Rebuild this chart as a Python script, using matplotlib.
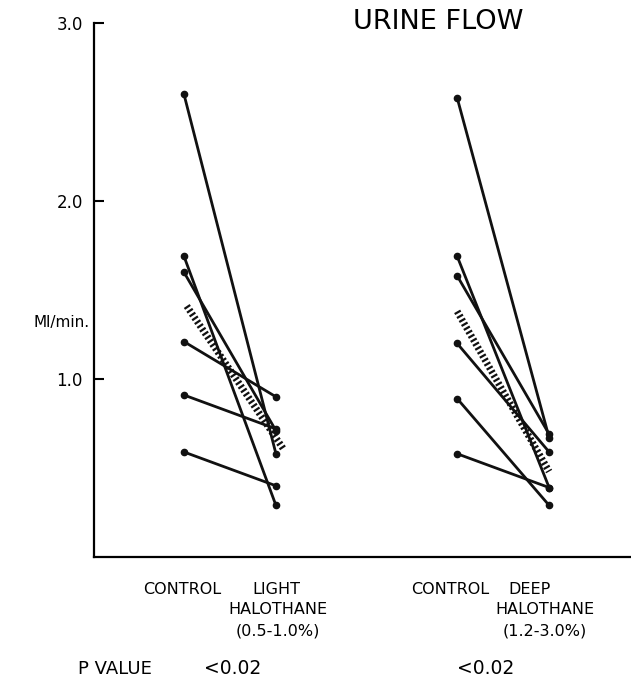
import matplotlib
matplotlib.use("Agg")
import matplotlib.pyplot as plt

# ---- data ----
left_control = [2.60, 1.69, 1.60, 1.21, 0.91, 0.59]
left_light = [0.58, 0.29, 0.71, 0.90, 0.72, 0.40]
left_mean = [1.41, 0.60]

right_control = [2.58, 1.69, 1.58, 1.20, 0.89, 0.58]
right_deep = [0.67, 0.39, 0.69, 0.59, 0.29, 0.39]
right_mean = [1.38, 0.48]

y_ticks = [1.0, 2.0, 3.0]
y_ticklabels = ["1.0", "2.0", "3.0"]

title = "URINE FLOW"
y_label = "Ml/min."
group_labels = [
    ("CONTROL", "LIGHT", "HALOTHANE", "(0.5-1.0%)"),
    ("CONTROL", "DEEP", "HALOTHANE", "(1.2-3.0%)"),
]
p_label = "P VALUE"
p_values = ["<0.02", "<0.02"]

# ---- figure ----
W, H = 631, 684
plt.rcParams['font.family'] = ['DejaVu Sans']
fig = plt.figure(figsize=(W / 100, H / 100), dpi=100)
ax = fig.add_axes([94 / W, (H - 557) / H, (W - 94) / W, (557 - 23) / H])

ax.set_xlim(0.022, 5.86)
ax.set_ylim(0, 3.0)

xl = (1.0, 2.0)
xr = (3.97, 4.97)

line_kw = dict(color='#111111', lw=2.0, marker='o', markersize=4.5,
               solid_capstyle='round')
for a, b in zip(left_control, left_light):
    ax.plot(xl, [a, b], **line_kw)
for a, b in zip(right_control, right_deep):
    ax.plot(xr, [a, b], **line_kw)

mean_kw = dict(color='#111111', lw=5, linestyle=(0, (0.32, 0.34)),
               dash_capstyle='butt')
ax.plot((1.03, 2.09), left_mean, **mean_kw)
ax.plot((3.97, 4.97), right_mean, **mean_kw)

# axes styling
for s in ('top', 'right'):
    ax.spines[s].set_visible(False)
ax.spines['left'].set_linewidth(1.6)
ax.spines['bottom'].set_linewidth(1.6)
ax.set_xticks([])
ax.set_yticks(y_ticks)
ax.set_yticklabels(y_ticklabels, fontsize=12)
ax.tick_params(axis='y', direction='in', length=7, width=1.5, pad=8)

def fx(px):
    return px / W

def fy(py):
    return 1 - py / H

fig.text(fx(438), fy(22), title, fontsize=19.5, ha='center', va='center')
fig.text(fx(62), fy(323), y_label, fontsize=11, ha='center', va='center')

# bottom labels
left_pos = dict(ctrl=182, trt=276, sub=278)
right_pos = dict(ctrl=450, trt=529, sub=545)
for labels, pos in zip(group_labels, (left_pos, right_pos)):
    ctrl, trt, hal, pct = labels
    fig.text(fx(pos['ctrl']), fy(589.5), ctrl, fontsize=11.5, ha='center', va='center')
    fig.text(fx(pos['trt']), fy(589.5), trt, fontsize=11.5, ha='center', va='center')
    fig.text(fx(pos['sub']), fy(610), hal, fontsize=11.5, ha='center', va='center')
    fig.text(fx(pos['sub']), fy(631), pct, fontsize=11.5, ha='center', va='center')

fig.text(fx(115), fy(669), p_label, fontsize=13, ha='center', va='center')
fig.text(fx(233), fy(668.5), p_values[0], fontsize=13.5, ha='center', va='center')
fig.text(fx(486), fy(668.5), p_values[1], fontsize=13.5, ha='center', va='center')

fig.savefig("out.png", dpi=100, facecolor='white')
